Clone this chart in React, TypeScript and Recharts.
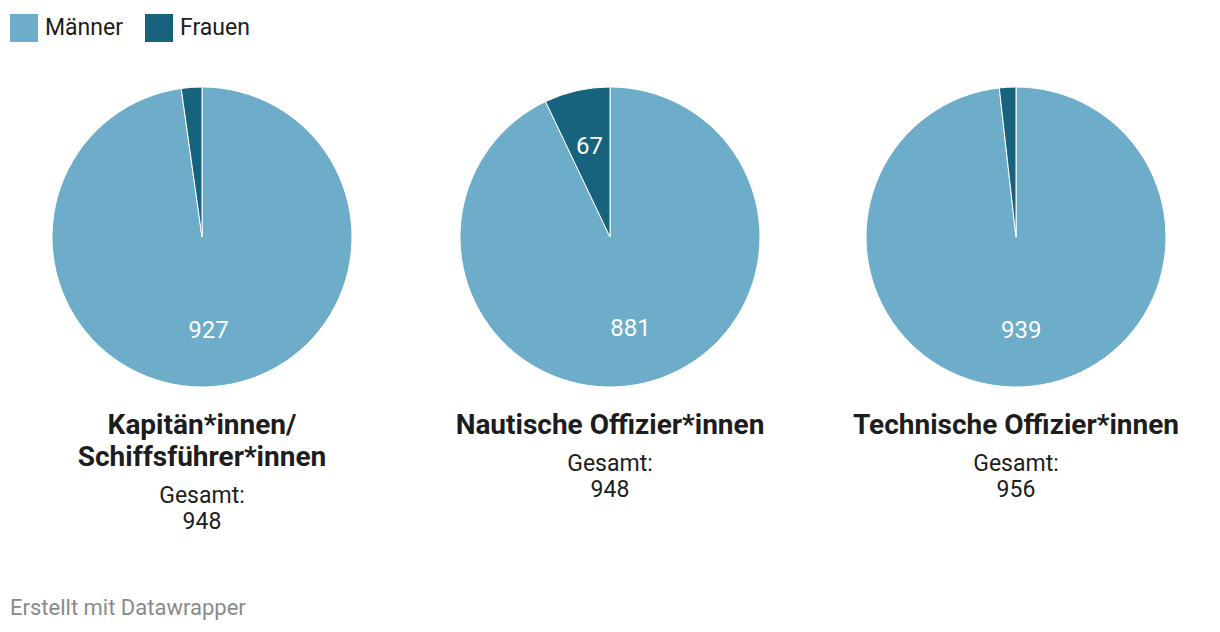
import { PieChart, Pie, Cell } from "recharts";

const groups = ["Kapitän*innen/\nSchiffsführer*innen", "Nautische Offizier*innen", "Technische Offizier*innen"];
const maenner = [927, 881, 939];
const frauen = [21, 67, 17];
const gesamt = [948, 948, 956];
const seriesNames = ["Männer", "Frauen"];
const colors = ["#6dadca", "#17627d"];

const centersX = [202, 610, 1016];
const centerY = 237;
const radius = 150;
const FONT = "Roboto, 'Noto Sans', sans-serif";

const renderLabel = (props: any) => {
    const { cx, cy, midAngle, outerRadius, value } = props;
    // small slices get no label
    if (value < 40) return null;
    const r = outerRadius * 0.62;
    const rad = (Math.PI / 180) * midAngle;
    const x = cx + r * Math.cos(rad);
    const y = cy - r * Math.sin(rad);
    return (
        <text x={x} y={y} fill="#ffffff" textAnchor="middle" dominantBaseline="central" fontSize={24} fontFamily={FONT}>
            {value}
        </text>
    );
};

const App = () => {
    return (
        <div style={{ position: "absolute", left: 0, top: 0, width: 1220, height: 632, background: "#fff", fontFamily: FONT, color: "#1d1d1d" }}>
            {/* legend */}
            <div style={{ position: "absolute", left: 10, top: 14, display: "flex", alignItems: "center", fontSize: 23, lineHeight: "28px" }}>
                {seriesNames.map((n, i) => (
                    <div key={n} style={{ display: "flex", alignItems: "center", marginRight: 22 }}>
                        <span style={{ width: 28, height: 28, background: colors[i], display: "inline-block", marginRight: 7 }} />
                        <span>{n}</span>
                    </div>
                ))}
            </div>

            <PieChart width={1220} height={632} margin={{ top: 0, right: 0, bottom: 0, left: 0 }} style={{ position: "absolute", left: 0, top: 0 }}>
                {groups.map((g, gi) => (
                    <Pie
                        key={g}
                        data={[
                            { name: seriesNames[0], value: maenner[gi] },
                            { name: seriesNames[1], value: frauen[gi] },
                        ]}
                        dataKey="value"
                        cx={centersX[gi]}
                        cy={centerY}
                        outerRadius={radius}
                        startAngle={90}
                        endAngle={-270}
                        stroke="#ffffff"
                        strokeWidth={1}
                        label={renderLabel}
                        labelLine={false}
                        isAnimationActive={false}
                    >
                        <Cell fill={colors[0]} />
                        <Cell fill={colors[1]} />
                    </Pie>
                ))}
            </PieChart>

            {groups.map((g, gi) => (
                <div key={g} style={{ position: "absolute", left: centersX[gi] - 200, width: 400, top: 409, textAlign: "center" }}>
                    <div style={{ fontWeight: 700, fontSize: 28, lineHeight: "32px", whiteSpace: "pre-line" }}>{g}</div>
                    <div style={{ fontSize: 23, lineHeight: "26px", marginTop: 10 }}>
                        Gesamt:
                        <br />
                        {gesamt[gi]}
                    </div>
                </div>
            ))}

            <div style={{ position: "absolute", left: 10, top: 595, fontSize: 22, lineHeight: "26px", color: "#8a8a8a" }}>Erstellt mit Datawrapper</div>
        </div>
    );
};

export default App;
